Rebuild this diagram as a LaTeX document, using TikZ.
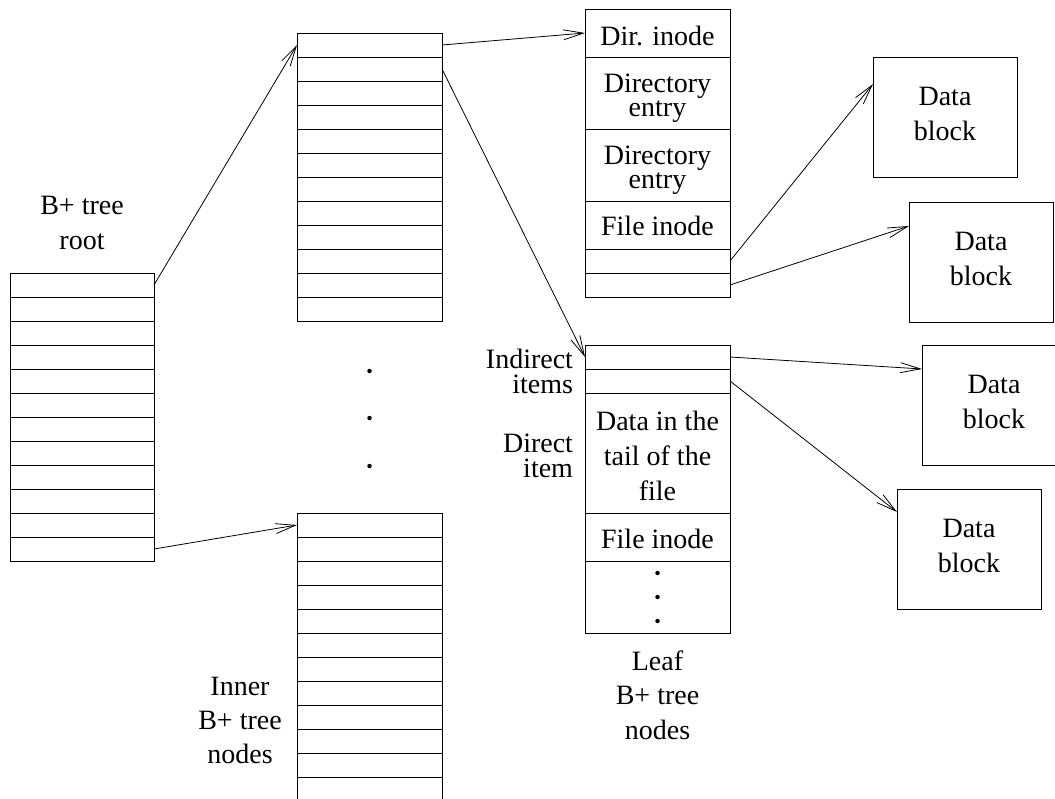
\documentclass[tikz,border=0pt]{standalone}
\usepackage{fontspec}
\setmainfont{Liberation Serif}
\usetikzlibrary{arrows.meta,calc}
\begin{document}
\begin{tikzpicture}[x=1pt,y=-1pt,
  cellbox/.style={draw, line width=0.9pt, inner sep=0pt, outer sep=0pt, minimum width=145pt, anchor=north west},
  rowbox/.style={cellbox, minimum height=24pt},
  rootrow/.style={rowbox, minimum width=144pt},
  blockbox/.style={draw, line width=0.9pt, inner sep=0pt, outer sep=0pt, minimum width=144pt, minimum height=120pt, anchor=north west},
  txtlabel/.style={inner sep=0pt, outer sep=0pt, anchor=base, font=\fontsize{28}{34}\selectfont},
  rtxtlabel/.style={txtlabel, anchor=base east},
  arr/.style={line width=0.8pt, -{Straight Barb[length=20pt,width=10pt]}},
  dotmark/.style={circle, fill, inner sep=0pt, minimum size=4.5pt}
]
\useasboundingbox (0,0) rectangle (1055,798);
\clip (0,0) rectangle (1055,798);

% root node
\foreach \i in {1,...,12} \node[rootrow] (r\i) at (10,{273+24*(\i-1)}) {};
\node[txtlabel] (rootA) at (82,214) {B+ tree};
\node[txtlabel] (rootB) at (82,249) {root};

% inner nodes
\foreach \i in {1,...,12} \node[rowbox] (a\i) at (297,{33+24*(\i-1)}) {};
\foreach \i in {1,...,12} \node[rowbox] (b\i) at (297,{513+24*(\i-1)}) {};
\node[dotmark] (v1) at (369.5,371) {};
\node[dotmark] (v2) at (369.5,418) {};
\node[dotmark] (v3) at (369.5,466) {};
\node[txtlabel] (innA) at (240,695) {Inner};
\node[txtlabel] (innB) at (240,729) {B+ tree};
\node[txtlabel] (innC) at (240,763) {nodes};

% leaf node 1
\node[cellbox, minimum height=48pt] (l1) at (585,9) {};
\node[cellbox, minimum height=72pt] (l2) at (585,57) {};
\node[cellbox, minimum height=72pt] (l3) at (585,129) {};
\node[cellbox, minimum height=48pt] (l4) at (585,201) {};
\node[rowbox] (l5) at (585,249) {};
\node[rowbox] (l6) at (585,273) {};
\node[txtlabel] (t1) at (657.5,45) {Dir. inode};
\node[txtlabel] (t2) at (657.5,92) {Directory};
\node[txtlabel] (t3) at (657.5,116) {entry};
\node[txtlabel] (t4) at (657.5,164) {Directory};
\node[txtlabel] (t5) at (657.5,188) {entry};
\node[txtlabel] (t6) at (657.5,235) {File inode};

% leaf node 2
\node[rowbox] (m1) at (585,345) {};
\node[rowbox] (m2) at (585,369) {};
\node[cellbox, minimum height=120pt] (m3) at (585,393) {};
\node[cellbox, minimum height=48pt] (m4) at (585,513) {};
\node[cellbox, minimum height=72pt] (m5) at (585,561) {};
\node[txtlabel] (s1) at (657.5,430) {Data in the};
\node[txtlabel] (s2) at (657.5,465) {tail of the};
\node[txtlabel] (s3) at (657.5,500) {file};
\node[txtlabel] (s4) at (657.5,548) {File inode};
\node[dotmark] (w1) at (657.5,573) {};
\node[dotmark] (w2) at (657.5,597) {};
\node[dotmark] (w3) at (657.5,621) {};
\node[rtxtlabel] (ind1) at (573,368) {Indirect};
\node[rtxtlabel] (ind2) at (573,393.5) {items};
\node[rtxtlabel] (dir1) at (573,452) {Direct};
\node[rtxtlabel] (dir2) at (573,477) {item};
\node[txtlabel] (lfA) at (657.5,670) {Leaf};
\node[txtlabel] (lfB) at (657.5,704.5) {B+ tree};
\node[txtlabel] (lfC) at (657.5,739) {nodes};

% data blocks
\node[blockbox] (d1) at (873,57) {};
\node[blockbox] (d2) at (909,202) {};
\node[blockbox] (d3) at (922,345) {};
\node[blockbox] (d4) at (897,489) {};
\node[txtlabel] (d1a) at (945,105) {Data};
\node[txtlabel] (d1b) at (945,140) {block};
\node[txtlabel] (d2a) at (981,250) {Data};
\node[txtlabel] (d2b) at (981,285) {block};
\node[txtlabel] (d3a) at (994,393) {Data};
\node[txtlabel] (d3b) at (994,428) {block};
\node[txtlabel] (d4a) at (969,537) {Data};
\node[txtlabel] (d4b) at (969,572) {block};

% arrows
\draw[arr] (r1.east) -- (a1.west);
\draw[arr] (r12.east) -- (b1.west);
\draw[arr] (a1.east) -- (l1.west);
\draw[arr] (a2.east) -- (m1.west);
\draw[arr] (l5.east) -- ($(d1.north west)+(0,27)$);
\draw[arr] (l6.east) -- ($(d2.north west)+(0,24)$);
\draw[arr] (m1.east) -- ($(d3.north west)+(0,24)$);
\draw[arr] (m2.east) -- ($(d4.north west)+(0,23)$);
\end{tikzpicture}
\end{document}
